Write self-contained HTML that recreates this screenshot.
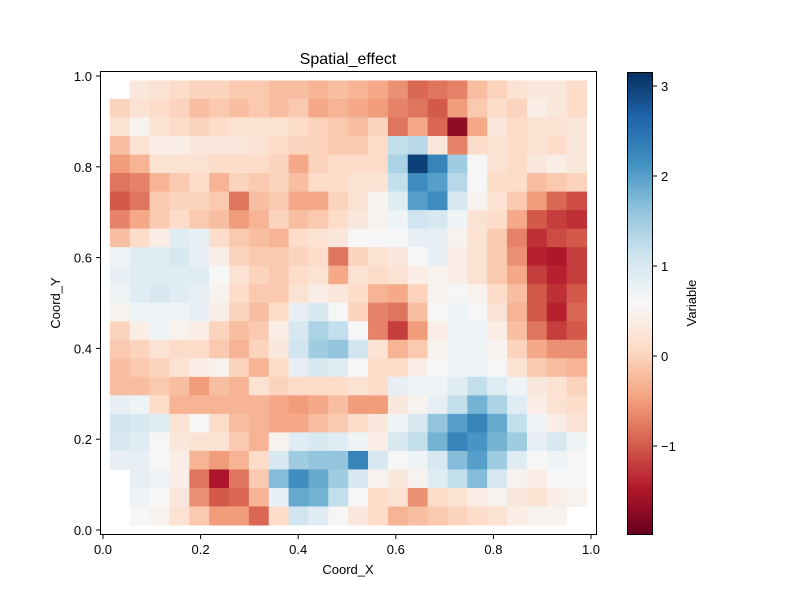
<!DOCTYPE html>
<html><head><meta charset="utf-8"><style>
body{margin:0;background:#fff;}
svg text{font-family:"Liberation Sans",sans-serif;fill:#000;}
</style></head><body>
<svg id="chart" width="800" height="600" xmlns="http://www.w3.org/2000/svg">
<rect width="800" height="600" fill="#fff"/>
<text x="348" y="64" font-size="16" text-anchor="middle">Spatial_effect</text>
<g id="cells"></g>
<rect x="100.5" y="71.5" width="496" height="463" fill="none" stroke="#000" stroke-width="1"/>
<g id="xticks"></g>
<g id="yticks"></g>
<text x="348" y="574" font-size="13" text-anchor="middle">Coord_X</text>
<text transform="translate(60,303) rotate(-90)" font-size="13" text-anchor="middle">Coord_Y</text>
<defs><linearGradient id="cbg" x1="0" y1="1" x2="0" y2="0"></linearGradient></defs>
<rect x="627.5" y="72.5" width="25" height="462" fill="url(#cbg)" stroke="#000" stroke-width="1"/>
<g id="cbticks"></g>
<text transform="translate(696,303) rotate(-90)" font-size="13" text-anchor="middle">Variable</text>
</svg>
<script>
const xTicks=[0.0,0.2,0.4,0.6,0.8,1.0];
const yTicks=[0.0,0.2,0.4,0.6,0.8,1.0];
const cbTicks=[-1,0,1,2,3];
const cbLabels=["\u22121","0","1","2","3"];
const vmin=-1.98, vmax=3.15;
const gridX0=0.014, gridY0=0.011, cellW=0.0407, cellH=0.0408;
const values=[
[null,0.3,0.2,0.1,0.0,0.0,-0.1,-0.1,-0.2,-0.2,-0.3,-0.2,-0.3,-0.4,-0.6,-0.9,-0.8,-0.7,-0.2,0.0,0.2,0.3,0.3,0.1],
[0.0,0.2,0.1,0.0,-0.2,-0.1,-0.2,-0.1,-0.2,-0.1,-0.4,-0.3,-0.4,-0.5,-0.7,-0.8,-1.0,-0.5,-0.1,0.1,0.0,0.4,0.3,0.1],
[0.2,0.5,0.2,0.1,0.0,0.1,0.2,0.2,0.2,0.1,0.0,-0.1,-0.2,0.0,-0.8,-0.4,-0.9,-1.7,-0.4,0.3,0.1,0.2,0.2,0.3],
[-0.2,0.2,0.4,0.4,0.3,0.3,0.3,0.2,0.1,0.0,0.0,-0.1,-0.1,0.1,1.2,1.3,0.3,-0.7,0.1,0.2,0.1,0.2,0.1,0.3],
[-0.5,-0.3,0.2,0.2,0.2,0.1,0.1,0.1,0.0,-0.4,0.0,0.1,0.1,0.1,1.4,3.0,2.3,1.5,0.6,0.2,0.1,0.3,0.4,0.3],
[-0.8,-0.7,-0.3,-0.1,0.1,-0.3,0.0,-0.1,0.0,-0.2,0.1,0.1,0.2,0.2,1.2,2.2,2.0,1.3,0.6,0.1,0.1,-0.2,-0.1,0.0],
[-1.0,-0.8,-0.1,0.0,0.0,-0.1,-0.8,-0.2,-0.1,-0.4,-0.4,0.0,0.2,0.5,0.9,2.0,2.2,1.0,0.5,0.2,-0.1,-0.5,-0.9,-1.1],
[-0.7,-0.4,-0.1,0.1,-0.1,-0.2,-0.5,-0.3,0.0,-0.2,-0.1,0.1,0.3,0.5,0.7,1.1,1.0,0.7,0.2,0.1,-0.4,-1.0,-1.2,-1.3],
[-0.2,0.1,0.4,0.9,0.8,0.1,-0.1,-0.2,-0.3,0.1,0.2,0.3,0.6,0.6,0.6,0.8,0.8,0.5,0.2,-0.1,-0.7,-1.3,-1.1,-1.0],
[0.7,0.9,0.9,1.0,0.8,0.4,0.0,-0.1,-0.1,0.0,0.1,-0.8,0.0,0.2,0.3,0.6,0.8,0.4,0.2,-0.1,-0.6,-1.4,-1.5,-1.2],
[0.8,0.9,0.9,0.9,0.9,0.6,0.2,0.0,-0.1,0.1,0.2,-0.4,0.2,0.1,0.2,0.4,0.5,0.4,0.2,-0.1,-0.4,-1.2,-1.4,-1.2],
[0.7,0.9,1.0,0.9,0.8,0.5,0.1,-0.1,-0.1,0.2,0.4,0.3,0.1,-0.3,-0.4,0.0,0.5,0.6,0.5,0.1,-0.2,-1.0,-1.3,-1.0],
[0.5,0.7,0.7,0.7,0.8,0.4,0.0,-0.2,0.1,0.8,1.0,0.6,0.0,-0.7,-0.8,-0.2,0.6,0.7,0.6,0.2,-0.3,-1.0,-1.4,-0.9],
[0.0,0.4,0.7,0.5,0.4,0.0,-0.2,-0.1,0.4,1.0,1.4,1.2,0.6,-0.7,-1.2,-0.5,0.4,0.7,0.7,0.4,-0.2,-0.8,-1.2,-1.0],
[-0.1,0.0,0.2,0.1,0.1,-0.1,-0.3,0.0,0.3,1.1,1.5,1.6,1.1,0.2,-0.3,-0.1,0.5,0.7,0.7,0.5,0.0,-0.4,-0.6,-0.6],
[-0.2,-0.1,0.0,0.2,0.4,0.5,0.0,-0.3,0.1,0.8,1.0,0.9,0.6,0.1,0.1,0.4,0.6,0.7,0.7,0.6,0.2,-0.1,-0.2,-0.3],
[-0.2,-0.2,-0.1,-0.2,-0.5,-0.2,-0.3,0.2,0.0,0.1,0.1,0.1,0.2,0.1,0.8,0.7,0.7,0.9,1.2,0.9,0.7,0.3,0.2,0.0],
[0.8,0.7,0.1,-0.3,-0.3,-0.3,-0.3,-0.3,-0.4,-0.5,-0.4,-0.2,-0.5,-0.5,0.3,0.5,0.8,1.2,1.8,1.4,0.9,0.4,0.2,0.1],
[1.1,1.0,0.9,0.2,0.6,0.1,-0.2,-0.3,-0.4,-0.4,-0.2,-0.1,0.1,0.3,0.7,1.0,1.6,2.0,2.3,1.9,1.2,0.7,0.4,0.2],
[1.0,0.9,0.6,0.3,0.2,0.2,-0.1,-0.3,0.5,0.9,1.0,0.9,0.7,0.4,1.0,1.2,1.8,2.3,2.1,1.8,1.5,0.8,1.0,0.7],
[0.8,0.8,0.6,0.4,-0.3,-0.5,-0.3,0.1,1.0,1.5,1.6,1.6,2.3,1.0,0.6,0.7,1.0,1.7,2.0,1.5,0.9,0.6,0.7,0.6],
[null,0.8,0.7,0.4,-0.8,-1.5,-0.8,-0.1,1.7,2.2,1.9,1.5,1.0,0.5,0.3,0.5,0.9,1.2,1.7,1.0,0.5,0.4,0.6,0.6],
[null,0.7,0.6,0.3,-0.6,-1.0,-0.9,-0.3,0.8,1.9,1.8,1.2,0.6,0.1,0.2,-0.6,0.1,0.2,0.4,0.5,0.3,0.2,0.4,0.5],
[null,0.6,0.5,0.2,-0.1,-0.5,-0.5,-0.9,0.1,1.1,0.9,0.6,0.3,0.1,-0.3,-0.2,-0.1,0.0,0.1,0.2,0.4,0.5,0.5,null]
];
const NS="http://www.w3.org/2000/svg";
const stops=[[103,0,31],[178,24,43],[214,96,77],[244,165,130],[253,219,199],[247,247,247],[209,229,240],[146,197,222],[67,147,195],[33,102,172],[5,48,97]];
function cmap(v){let t=(v-vmin)/(vmax-vmin);t=Math.max(0,Math.min(1,t))*10;const i=Math.min(9,Math.floor(t)),f=t-i;const a=stops[i],b=stops[i+1];return `rgb(${a.map((c,k)=>Math.round(c+(b[k]-c)*f)).join(',')})`;}
const sx=v=>103+488*v, sy=v=>530-454*v, cy=v=>356-90*v;
const cells=document.getElementById('cells');
values.forEach((row,r)=>{row.forEach((v,c)=>{if(v===null)return;
 const yTop=gridY0+cellH*(values.length-r);
 const el=document.createElementNS(NS,'rect');
 
 
 const x0=sx(gridX0+cellW*c), x1=sx(gridX0+cellW*(c+1)), y0=sy(yTop), y1=sy(yTop-cellH);
 el.setAttribute('x',x0);el.setAttribute('y',y0);el.setAttribute('width',x1-x0+0.5);el.setAttribute('height',y1-y0+0.5);
 el.setAttribute('fill',cmap(v));cells.appendChild(el);});});
const xg=document.getElementById('xticks');
xTicks.forEach(t=>{const x=sx(t);
 const l=document.createElementNS(NS,'line');
 
 
 l.setAttribute('x1',x);l.setAttribute('x2',x);l.setAttribute('y1',535);l.setAttribute('y2',539);l.setAttribute('stroke','#000');xg.appendChild(l);
 const tx=document.createElementNS(NS,'text');
 
 
 tx.setAttribute('x',x);tx.setAttribute('y',554);tx.setAttribute('font-size','13');tx.setAttribute('text-anchor','middle');tx.textContent=t.toFixed(1);xg.appendChild(tx);});
const yg=document.getElementById('yticks');
yTicks.forEach(t=>{const y=sy(t);
 const l=document.createElementNS(NS,'line');
 
 
 l.setAttribute('x1',96);l.setAttribute('x2',100);l.setAttribute('y1',y);l.setAttribute('y2',y);l.setAttribute('stroke','#000');yg.appendChild(l);
 const tx=document.createElementNS(NS,'text');
 
 
 tx.setAttribute('x',92);tx.setAttribute('y',y+5);tx.setAttribute('font-size','13');tx.setAttribute('text-anchor','end');tx.textContent=t.toFixed(1);yg.appendChild(tx);});
const grad=document.getElementById('cbg');
stops.forEach((s,i)=>{const st=document.createElementNS(NS,'stop');st.setAttribute('offset',i/10);st.setAttribute('stop-color',`rgb(${s.join(',')})`);grad.appendChild(st);});
const cg=document.getElementById('cbticks');
cbTicks.forEach((t,i)=>{const y=cy(t);
 const l=document.createElementNS(NS,'line');
 
 
 l.setAttribute('x1',653);l.setAttribute('x2',657);l.setAttribute('y1',y);l.setAttribute('y2',y);l.setAttribute('stroke','#000');cg.appendChild(l);
 const tx=document.createElementNS(NS,'text');
 
 
 tx.setAttribute('x',661);tx.setAttribute('y',y+5);tx.setAttribute('font-size','13');tx.textContent=cbLabels[i];cg.appendChild(tx);});
</script>
</body></html>
